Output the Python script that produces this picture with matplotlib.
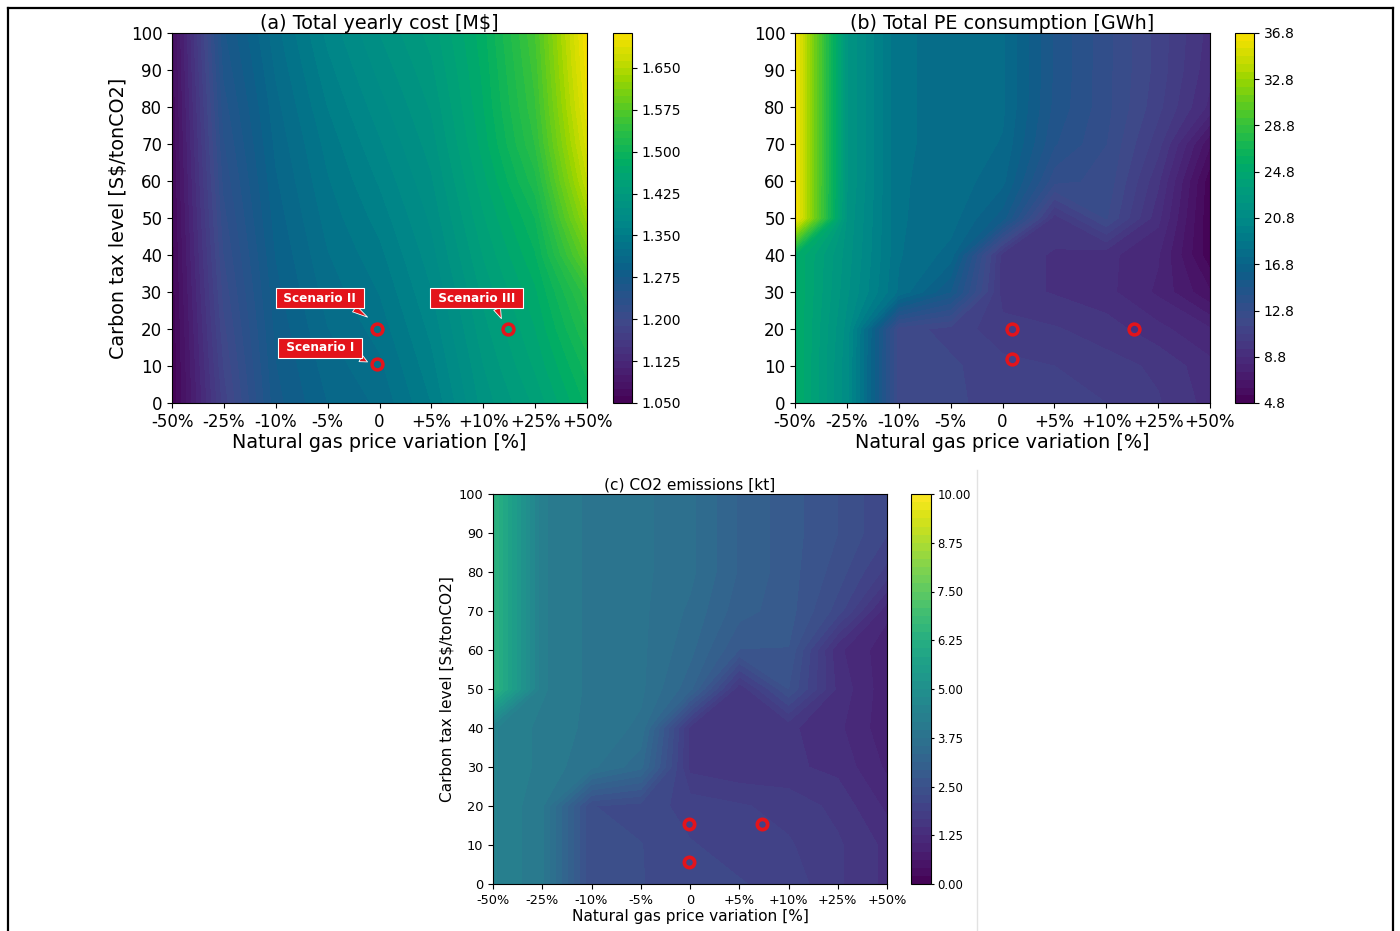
import numpy as np
import matplotlib
matplotlib.use('Agg')
import matplotlib.pyplot as plt
from matplotlib.lines import Line2D
from matplotlib.colors import ListedColormap, rgb_to_hsv, hsv_to_rgb

# ---------------- data ----------------
x_labels = ['-50%', '-25%', '-10%', '-5%', '0', '+5%', '+10%', '+25%', '+50%']
carbon_tax = [0, 10, 20, 30, 40, 50, 60, 70, 80, 90, 100]

# (a) Total yearly cost [M$]; rows = carbon tax 0..100, cols = gas price variation
cost = [
    [1.050, 1.180, 1.270, 1.300, 1.315, 1.350, 1.405, 1.440, 1.490],
    [1.051, 1.188, 1.274, 1.306, 1.322, 1.358, 1.412, 1.452, 1.505],
    [1.052, 1.196, 1.278, 1.312, 1.330, 1.366, 1.420, 1.462, 1.525],
    [1.054, 1.204, 1.283, 1.318, 1.338, 1.374, 1.428, 1.472, 1.545],
    [1.056, 1.212, 1.288, 1.324, 1.346, 1.382, 1.438, 1.486, 1.590],
    [1.058, 1.220, 1.293, 1.330, 1.355, 1.390, 1.448, 1.500, 1.630],
    [1.060, 1.228, 1.298, 1.336, 1.364, 1.398, 1.458, 1.520, 1.660],
    [1.062, 1.236, 1.303, 1.342, 1.373, 1.406, 1.468, 1.538, 1.680],
    [1.064, 1.244, 1.308, 1.350, 1.382, 1.414, 1.474, 1.548, 1.695],
    [1.066, 1.252, 1.314, 1.358, 1.391, 1.422, 1.478, 1.555, 1.705],
    [1.068, 1.260, 1.320, 1.366, 1.400, 1.430, 1.482, 1.562, 1.712],
]

# (b) Total PE consumption [GWh]
pe = [
    [25.5, 21.0, 11.8, 11.6, 11.2, 11.0, 10.8, 10.2, 9.2],
    [25.5, 21.0, 11.8, 11.6, 11.0, 10.8, 10.4, 10.0, 9.0],
    [25.5, 21.2, 11.8, 11.2, 10.4, 10.2, 9.8, 9.0, 8.2],
    [25.5, 21.6, 18.0, 15.4, 9.8, 9.4, 9.0, 8.0, 6.2],
    [25.5, 21.8, 18.2, 17.2, 9.8, 9.4, 9.0, 8.2, 5.0],
    [36.8, 22.0, 18.2, 17.8, 15.8, 9.8, 12.2, 9.0, 4.9],
    [36.8, 22.2, 18.2, 17.9, 17.0, 13.0, 12.6, 9.6, 5.0],
    [36.8, 22.2, 18.2, 18.0, 17.4, 14.2, 12.8, 10.4, 6.2],
    [36.8, 22.2, 18.2, 18.0, 17.6, 14.6, 13.0, 11.0, 8.6],
    [36.8, 22.2, 18.2, 18.0, 17.6, 14.7, 13.0, 11.2, 9.0],
    [36.8, 22.2, 18.2, 18.0, 17.6, 14.7, 13.0, 11.2, 9.2],
]

# (c) CO2 emissions [kt]
co2 = [
    [4.4, 4.0, 2.3, 2.3, 2.2, 2.1, 2.0, 1.7, 1.4],
    [4.4, 4.0, 2.3, 2.3, 2.1, 2.0, 1.9, 1.7, 1.4],
    [4.4, 4.0, 2.3, 2.2, 2.0, 1.9, 1.8, 1.6, 1.2],
    [4.4, 4.1, 3.8, 3.4, 1.6, 1.5, 1.5, 1.4, 1.0],
    [4.4, 4.1, 3.9, 3.7, 1.6, 1.5, 1.5, 1.3, 0.9],
    [6.5, 4.2, 3.9, 3.8, 3.2, 1.5, 2.5, 1.4, 0.9],
    [6.5, 4.2, 3.9, 3.8, 3.4, 2.7, 2.7, 1.3, 0.9],
    [6.5, 4.2, 3.9, 3.8, 3.5, 3.0, 2.8, 2.2, 1.1],
    [6.5, 4.2, 3.9, 3.8, 3.6, 3.1, 2.8, 2.4, 1.8],
    [6.5, 4.2, 3.9, 3.8, 3.6, 3.1, 2.8, 2.5, 2.1],
    [6.5, 4.2, 3.9, 3.8, 3.6, 3.1, 2.8, 2.5, 2.1],
]

# scenario markers (x in category-index units, y = carbon tax)
scen_labels = ['Scenario II', 'Scenario I', 'Scenario III']
scen_a_x = [3.95, 3.95, 6.47]
scen_a_y = [20, 10.5, 20]
scen_b_x = [4.18, 4.18, 6.53]
scen_b_y = [20, 11.9, 20]
scen_c_x = [3.98, 3.98, 5.46]
scen_c_y = [15.3, 5.6, 15.3]

# ---------------- colormap: viridis with the screenshot's stronger saturation ----
_t = np.linspace(0, 1, 256)
_hsv = rgb_to_hsv(plt.get_cmap('viridis')(_t)[:, :3])
_w = np.interp(_t, [0.0, 0.22, 0.36, 0.8, 1.0], [0.0, 0.0, 1.0, 1.0, 0.5])
_hsv[:, 1] = np.clip(_hsv[:, 1] * (1 + 0.35 * _w), 0, 1)
_hsv[:, 2] = _hsv[:, 2] * (1 - 0.04 * _w)
CMAP_SAT = ListedColormap(hsv_to_rgb(_hsv), name='viridis_sat')
CMAP_STD = plt.get_cmap('viridis')

# ---------------- layout ----------------
W, H = 1400, 931
fig = plt.figure(figsize=(W / 100, H / 100), dpi=100)
fig.patch.set_facecolor('white')


def box(l, t, r, b):
    return [l / W, 1 - b / H, (r - l) / W, (b - t) / H]


xi = np.arange(len(x_labels))
RED = '#e3141b'


def panel(axrect, caxrect, Z, vmin, vmax, nlev, ticks, fmt, title,
          sx, sy, big=True, ylabel=True, cmap=CMAP_SAT):
    ax = fig.add_axes(box(*axrect))
    cax = fig.add_axes(box(*caxrect))
    levels = np.linspace(vmin, vmax, nlev + 1)
    cs = ax.contourf(xi, carbon_tax, np.array(Z), levels=levels, cmap=cmap)
    tfs = 12 if big else 9.3
    lfs = 13.8 if big else 11.1
    cfs = 10 if big else 8.4
    ax.set_xticks(xi)
    ax.set_xticklabels(x_labels)
    ax.set_yticks(carbon_tax)
    ax.tick_params(labelsize=tfs)
    ax.set_xlim(0, len(x_labels) - 1)
    ax.set_ylim(0, 100)
    ax.set_xlabel('Natural gas price variation [%]', fontsize=lfs, labelpad=2)
    if ylabel:
        ax.set_ylabel('Carbon tax level [S$/tonCO2]', fontsize=lfs,
                      labelpad=2 if big else 3)
    ax.set_title(title, fontsize=lfs, pad=2 if big else 3)
    cb = fig.colorbar(cs, cax=cax, ticks=ticks, format=fmt)
    if big:
        cb.ax.tick_params(labelsize=cfs)
    else:
        cb.ax.tick_params(labelsize=cfs, length=2.5, pad=2)
    cb.outline.set_linewidth(0.8)
    ms, mew = (7.8, 2.5) if big else (7.4, 2.7)
    ax.plot(sx, sy, 'o', ms=ms, mfc='none', mec=RED, mew=mew, zorder=5)
    return ax


ax_a = panel((172, 33, 587, 403), (613, 33, 632, 403), cost, 1.05, 1.7125, 53,
             np.arange(1.05, 1.66, 0.075), '%.3f', '(a) Total yearly cost [M$]',
             scen_a_x, scen_a_y)
ax_b = panel((795, 33, 1210, 403), (1235, 33, 1254, 403), pe, 4.8, 36.8, 48,
             np.arange(4.8, 36.81, 4.0), '%.1f', '(b) Total PE consumption [GWh]',
             scen_b_x, scen_b_y, ylabel=False)
ax_c = panel((493, 494, 887, 884), (911, 494, 931, 884), co2, 0.0, 10.0, 48,
             np.arange(0, 10.01, 1.25), '%.2f', '(c) CO2 emissions [kt]',
             scen_c_x, scen_c_y, big=False, cmap=CMAP_STD)

# callouts in panel (a)
callouts = [
    (scen_labels[0], (2.85, 28.3), (3.77, 23.2), (0.85, 0.0)),
    (scen_labels[1], (2.85, 14.9), (3.77, 11.1), (0.88, 0.15)),
    (scen_labels[2], (5.87, 28.3), (6.35, 22.8), (0.72, 0.0)),
]
for txt, tpos, tip, rp in callouts:
    ax_a.annotate(' ' + txt + ' ', xy=tip, xytext=tpos, ha='center', va='center',
                  color='white', fontsize=8.7, fontweight='bold', zorder=6,
                  bbox=dict(boxstyle='square,pad=0.3', fc=RED, ec='white', lw=0.8),
                  arrowprops=dict(arrowstyle='wedge,tail_width=0.6,shrink_factor=0.5',
                                  fc=RED, ec='white', lw=0.6, relpos=rp,
                                  shrinkA=0, shrinkB=0))

# outer frame lines and faint separator
lw = 1.6
fig.add_artist(Line2D([8 / W, 1393 / W], [1 - 8 / H, 1 - 8 / H], color='black', lw=lw,
                      transform=fig.transFigure))
fig.add_artist(Line2D([8 / W, 8 / W], [1 - 8 / H, 0], color='black', lw=lw,
                      transform=fig.transFigure))
fig.add_artist(Line2D([1393 / W, 1393 / W], [1 - 8 / H, 0], color='black', lw=lw,
                      transform=fig.transFigure))
fig.add_artist(Line2D([977 / W, 977 / W], [1 - 470 / H, 0], color='#e2e2e2', lw=1,
                      transform=fig.transFigure))

fig.savefig('out.png', dpi=100)
